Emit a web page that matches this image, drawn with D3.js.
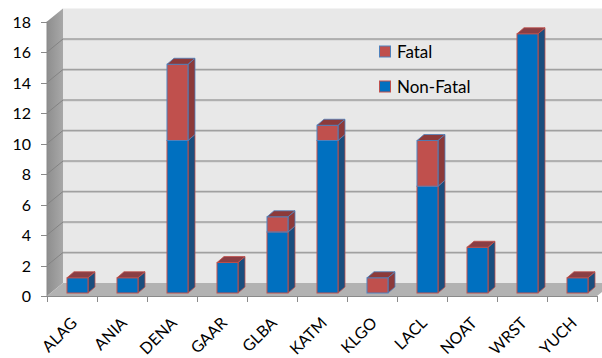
<!DOCTYPE html>
<html><head><meta charset="utf-8">
<script src="https://cdn.jsdelivr.net/npm/d3@7"></script>
<style>body{margin:0;background:#fff}svg{display:block}text{font-family:Lato,"Open Sans",sans-serif;fill:#000}</style>
</head><body><svg id="c" width="602" height="358"></svg>
<script>
const categories = ["ALAG","ANIA","DENA","GAAR","GLBA","KATM","KLGO","LACL","NOAT","WRST","YUCH"];
const nonFatal = [1,1,10,2,4,10,0,7,3,17,1];
const fatal    = [0,0,5,0,1,1,1,3,0,0,0];
const yTicks = [0,2,4,6,8,10,12,14,16,18];
const seriesNames = ["Fatal","Non-Fatal"];

const svg = d3.select("#c");
const x = d3.scaleBand().domain(categories).range([47, 597]).padding(0);
const y = d3.scaleLinear().domain([0, 18]).range([296, 21.5]);
const D = {dx: 16, dy: -13};     // wall depth
const B = {dx: 7, dy: -6};       // bar depth
const barOff = -3;

const defs = svg.append("defs");
const lg = defs.append("linearGradient").attr("id","lw").attr("x1","0").attr("x2","1").attr("y1","0").attr("y2","0");
lg.append("stop").attr("offset","0").attr("stop-color","#8e8e8e");
lg.append("stop").attr("offset","1").attr("stop-color","#a8a8a8");

const x0 = x.range()[0], x1 = 602;
svg.append("rect").attr("x", x0 + D.dx).attr("y", y(18) + D.dy).attr("width", x1 - x0 - D.dx).attr("height", y(0) - y(18)).attr("fill", "#e8e8e8");
svg.append("path").attr("d", `M${x0},${y(18)}L${x0+D.dx},${y(18)+D.dy}L${x0+D.dx},${y(0)+D.dy}L${x0},${y(0)}Z`).attr("fill","url(#lw)");
svg.append("path").attr("d", `M${x0},${y(0)}L${x0+D.dx},${y(0)+D.dy}L${x1},${y(0)+D.dy}L${x1},${y(0)-4}L${x.range()[1]},${y(0)}Z`).attr("fill","#b2b2b2");
yTicks.filter(v => v > 0 && v < 18).forEach(v => {
  svg.append("line").attr("x1", x0 + D.dx).attr("x2", x1).attr("y1", y(v) + D.dy + 1).attr("y2", y(v) + D.dy + 1).attr("stroke", "#d0d0d0").attr("stroke-width", 1);
  svg.append("line").attr("x1", x0 + D.dx).attr("x2", x1).attr("y1", y(v) + D.dy).attr("y2", y(v) + D.dy).attr("stroke", "#a0a0a0").attr("stroke-width", 1.5);
  svg.append("line").attr("x1", x0).attr("x2", x0 + D.dx).attr("y1", y(v)).attr("y2", y(v) + D.dy).attr("stroke", "#838383").attr("stroke-width", 1);
});
svg.append("line").attr("x1", x0).attr("x2", x0).attr("y1", y(18)).attr("y2", y(0)).attr("stroke","#8a8a8a");
svg.append("line").attr("x1", x0).attr("x2", x.range()[1]).attr("y1", y(0)+0.5).attr("y2", y(0)+0.5).attr("stroke","#8a8a8a");
yTicks.forEach(v => {
  svg.append("line").attr("x1", x0 - 6).attr("x2", x0).attr("y1", Math.round(y(v))+0.5).attr("y2", Math.round(y(v))+0.5).attr("stroke","#8a8a8a");
  svg.append("text").attr("x", 31).attr("y", y(v) + 6).attr("text-anchor","end").attr("font-size", 16).text(v);
});
categories.concat(["_end"]).forEach((c, i) => {
  const xx = Math.round(x0 + i * x.bandwidth()) + 0.5;
  svg.append("line").attr("x1", xx).attr("x2", xx).attr("y1", y(0)).attr("y2", y(0) + 6).attr("stroke","#8a8a8a");
});
categories.forEach(c => {
  const cx = x(c) + x.bandwidth()/2 + 6, cy = y(0) + 28;
  svg.append("text").attr("transform", `translate(${cx},${cy}) rotate(-45)`).attr("text-anchor","end").attr("font-size", 16).text(c);
});

const styles = {
  nf: {front:"#0070c0", side:"#1a4e7e", top:"#8a3e44", stroke:"#c0504d"},
  f:  {front:"#c0504d", side:"#8c3a3a", top:"#8c3a3a", stroke:"#4f81bd"}
};
const bw = 21;
categories.forEach((c, i) => {
  const segs = [{v0: 0, v1: nonFatal[i], s: styles.nf}, {v0: nonFatal[i], v1: nonFatal[i] + fatal[i], s: styles.f}].filter(d => d.v1 > d.v0);
  const bx = x(c) + 20;
  segs.forEach((d, k) => {
    const yt = y(d.v1) + barOff, yb = y(d.v0) + barOff;
    svg.append("path").attr("d", `M${bx+bw},${yb}L${bx+bw+B.dx},${yb+B.dy}L${bx+bw+B.dx},${yt+B.dy}L${bx+bw},${yt}Z`)
      .attr("fill", d.s.side).attr("stroke", d.s.stroke).attr("stroke-width", 0.8).attr("stroke-linejoin","round");
    svg.append("rect").attr("x", bx).attr("y", yt).attr("width", bw).attr("height", yb - yt)
      .attr("fill", d.s.front).attr("stroke", d.s.stroke).attr("stroke-width", 1);
    if (k === segs.length - 1) {
      svg.append("path").attr("d", `M${bx},${yt}L${bx+B.dx},${yt+B.dy}L${bx+bw+B.dx},${yt+B.dy}L${bx+bw},${yt}Z`)
        .attr("fill", d.s.top).attr("stroke", d.s.stroke).attr("stroke-width", 0.8).attr("stroke-linejoin","round");
    }
  });
});

const leg = [{name: seriesNames[0], s: styles.f, y: 52}, {name: seriesNames[1], s: styles.nf, y: 87}];
leg.forEach(l => {
  svg.append("rect").attr("x", 379.5).attr("y", l.y - 6).attr("width", 11).attr("height", 11)
    .attr("fill", l.s.front).attr("stroke", l.s.stroke).attr("stroke-width", 1);
  svg.append("text").attr("x", 397).attr("y", l.y + 6).attr("font-size", 17).text(l.name);
});
</script></body></html>
